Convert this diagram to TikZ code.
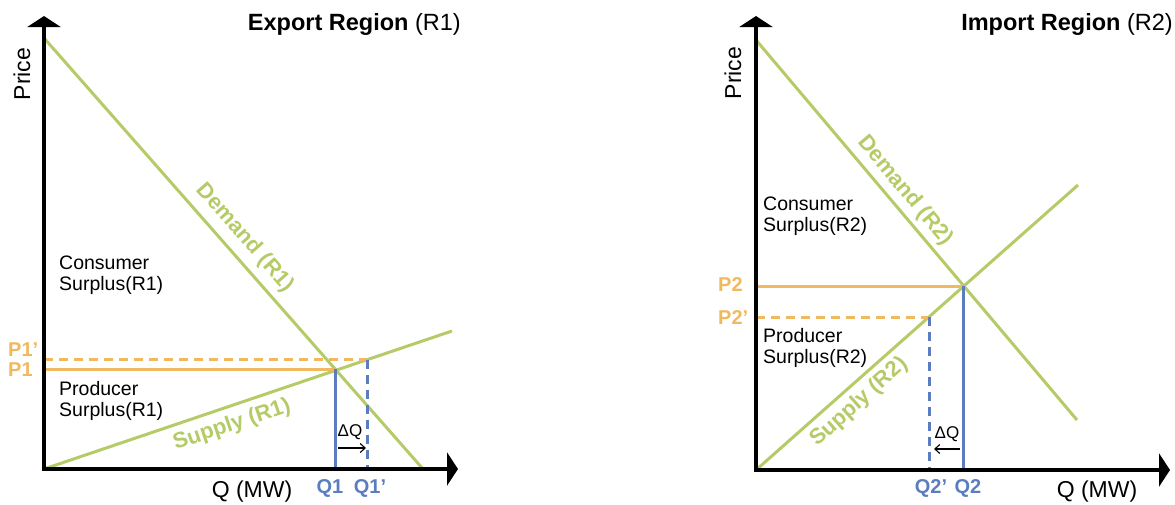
\documentclass[tikz,border=0pt]{standalone}
\usepackage{fontspec}
\setmainfont{Liberation Sans}
\usetikzlibrary{arrows.meta}
\definecolor{curvegreen}{RGB}{180,203,103}
\definecolor{priceorange}{RGB}{241,185,95}
\definecolor{qtyblue}{RGB}{91,125,192}
\tikzset{
  axis/.style={line width=3.5pt, line join=miter,
    {Triangle[length=11pt,width=33pt]}-{Triangle[length=11pt,width=33pt]}},
  curve/.style={curvegreen, line width=3pt},
  pline/.style={priceorange, line width=3pt},
  qline/.style={qtyblue, line width=3pt},
  shifted/.style={dash pattern=on 9pt off 6pt},
  dqarrow/.style={line width=1.1pt, -{Straight Barb[length=5pt,width=9pt]}},
  titletext/.style={anchor=east, inner sep=0, font=\fontsize{23.5}{26}\selectfont},
  axlabel/.style={inner sep=0, font=\fontsize{23}{26}\selectfont},
  surplus/.style={anchor=west, align=left, inner sep=0, font=\fontsize{19.5}{21}\selectfont},
  plabel/.style={priceorange, inner sep=0, font=\fontsize{20}{22}\selectfont\bfseries},
  qlabel/.style={qtyblue, inner sep=0, font=\fontsize{20}{22}\selectfont\bfseries},
  curvelabel/.style={curvegreen, inner sep=0, font=\fontsize{22}{24}\selectfont\bfseries},
  dqtext/.style={inner sep=0, font=\fontsize{17}{19}\selectfont}
}

\begin{document}
\begin{tikzpicture}[x=1pt,y=-1pt]
  \useasboundingbox (0,0) rectangle (1175,504);

  %%%%% EXPORT REGION %%%%%
  \coordinate (O1) at (44,469);
  \coordinate (E1) at (335,369);
  \coordinate (E1s) at (367,359.5);

  \draw[curve] (44,38) -- (423,469);
  \draw[curve] (O1) -- (452,331);

  \draw[pline] (44,369) -- (E1);
  \draw[pline,shifted] (44,359.5) -- (E1s);
  \draw[qline] (E1) -- (335,469);
  \draw[qline,shifted] (E1s) -- (367,469);

  \draw[axis] (44,16) -- (O1) -- (458,469);

  \node[titletext] (title1) at (461,24) {\textbf{Export Region} (R1)};
  \node[axlabel, rotate=90] (price1) at (22,74) {Price};
  \node[axlabel] (qty1) at (252,492) {Q (MW)};

  \node[surplus] (cs1) at (59,275) {Consumer\\Surplus(R1)};
  \node[surplus] (ps1) at (59,401) {Producer\\Surplus(R1)};

  \node[curvelabel, rotate=-48.7] (dem1) at (245,238) {Demand (R1)};
  \node[curvelabel, rotate=18.7] (sup1) at (232,425) {Supply (R1)};

  \node[plabel, anchor=west] (p1s) at (8,350) {P1’};
  \node[plabel, anchor=west] (p1) at (8,370) {P1};
  \node[qlabel] (q1) at (330,488) {Q1};
  \node[qlabel] (q1s) at (370,488) {Q1’};

  \node[dqtext] (dq1) at (350,432) {ΔQ};
  \draw[dqarrow] (338,448) -- (366,448);

  %%%%% IMPORT REGION %%%%%
  \coordinate (O2) at (756,470);
  \coordinate (E2) at (963,286);
  \coordinate (E2s) at (929,317);

  \draw[curve] (756,40) -- (1077,420);
  \draw[curve] (O2) -- (1078,185);

  \draw[pline] (756,286) -- (E2);
  \draw[pline,shifted] (756,317) -- (E2s);
  \draw[qline] (E2) -- (963,470);
  \draw[qline,shifted] (E2s) -- (929,470);

  \draw[axis] (756,16) -- (O2) -- (1170,470);

  \node[titletext] (title2) at (1173,24) {\textbf{Import Region} (R2)};
  \node[axlabel, rotate=90] (price2) at (733,73) {Price};
  \node[axlabel] (qty2) at (1097,492) {Q (MW)};

  \node[surplus] (cs2) at (763,216) {Consumer\\Surplus(R2)};
  \node[surplus] (ps2) at (763,347.5) {Producer\\Surplus(R2)};

  \node[curvelabel, rotate=-50] (dem2) at (905,191) {Demand (R2)};
  \node[curvelabel, rotate=41.5] (sup2) at (859,402) {Supply (R2)};

  \node[plabel, anchor=west] (p2) at (718,285) {P2};
  \node[plabel, anchor=west] (p2s) at (718,318) {P2’};
  \node[qlabel] (q2s) at (931,488) {Q2’};
  \node[qlabel] (q2) at (968,488) {Q2};

  \node[dqtext] (dq2) at (947,434) {ΔQ};
  \draw[dqarrow] (960,449) -- (934,449);
\end{tikzpicture}
\end{document}
